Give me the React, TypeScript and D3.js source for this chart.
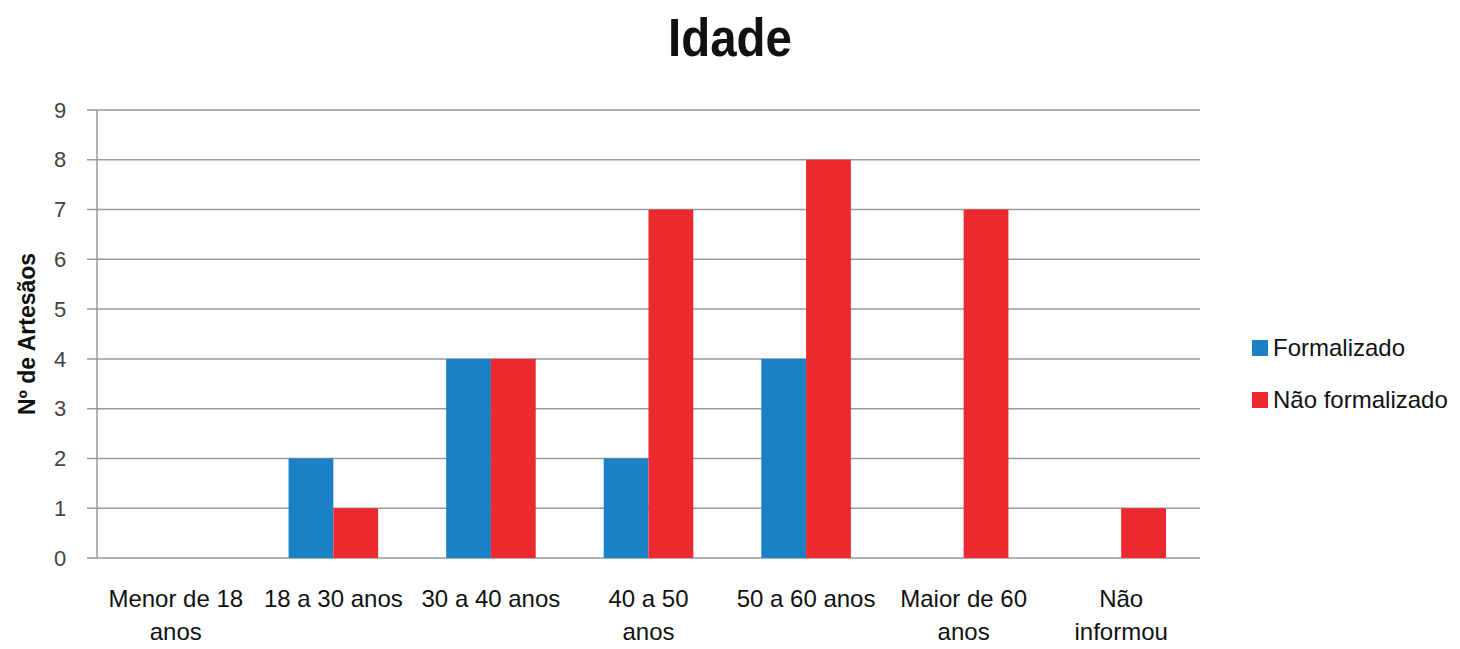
import * as d3 from "d3";

// chart data
const categories = [
  "Menor de 18 anos",
  "18 a 30 anos",
  "30 a 40 anos",
  "40 a 50 anos",
  "50 a 60 anos",
  "Maior de 60 anos",
  "Não informou",
];
// how each category label is broken on two lines
const labelLines = [
  ["Menor de 18", "anos"],
  ["18 a 30  anos"],
  ["30 a 40  anos"],
  ["40 a  50", "anos"],
  ["50 a 60  anos"],
  ["Maior de  60", "anos"],
  ["Não", "informou"],
];
const seriesNames = ["Formalizado", "Não formalizado"];
const formalizado = [0, 2, 4, 2, 4, 0, 0];
const naoFormalizado = [0, 1, 4, 7, 8, 7, 1];
const yTicks = [0, 1, 2, 3, 4, 5, 6, 7, 8, 9];

const colors = ["#1b80c6", "#ed2930"];
const font = "'Liberation Sans', Arial, sans-serif";

export default function App() {
  const width = 1460;
  const height = 649;
  const margin = { top: 110, right: 260, bottom: 91, left: 97 };
  const w = width - margin.left - margin.right;
  const h = height - margin.top - margin.bottom;

  const x = d3.scaleBand().domain(categories).range([0, w]).paddingInner(0).paddingOuter(0);
  const y = d3.scaleLinear().domain([0, 9]).range([h, 0]);
  const x1 = d3
    .scaleBand()
    .domain(seriesNames)
    .range([34, x.bandwidth() - 34])
    .padding(0);

  const values = [formalizado, naoFormalizado];
  const grid = "#9a9a9a";

  return (
    <svg width={width} height={height} style={{ display: "block", position: "absolute", left: 0, top: 0 }}>
      <rect width={width} height={height} fill="#fff" />
      <text
        x={730}
        y={56}
        textAnchor="middle"
        fontFamily={font}
        fontWeight="bold"
        fontSize={54}
        textLength={124}
        lengthAdjust="spacingAndGlyphs"
        fill="#111"
      >
        Idade
      </text>

      <text
        transform={`translate(35,${margin.top + h / 2}) rotate(-90)`}
        textAnchor="middle"
        fontFamily={font}
        fontWeight="bold"
        fontSize={23}
        fill="#111"
      >
        Nº de Artesãos
      </text>

      <g transform={`translate(${margin.left},${margin.top})`}>
        {yTicks.map((t) => (
          <g key={t}>
            <line x1={-10} x2={w} y1={y(t)} y2={y(t)} stroke={grid} strokeWidth={1.5} />
            <text
              x={-37}
              y={y(t)}
              dy="0.35em"
              textAnchor="middle"
              fontFamily={font}
              fontSize={22}
              fill="#444"
            >
              {t}
            </text>
          </g>
        ))}
        <line x1={0} x2={0} y1={0} y2={h} stroke={grid} strokeWidth={1.5} />

        {values.map((vals, si) =>
          categories.map((c, i) =>
            vals[i] > 0 ? (
              <rect
                key={`${si}-${i}`}
                x={(x(c) ?? 0) + (x1(seriesNames[si]) ?? 0)}
                y={y(vals[i])}
                width={x1.bandwidth()}
                height={h - y(vals[i])}
                fill={colors[si]}
              />
            ) : null
          )
        )}

        {categories.map((c, i) => (
          <text
            key={c}
            x={(x(c) ?? 0) + x.bandwidth() / 2}
            y={h + 49}
            textAnchor="middle"
            fontFamily={font}
            fontSize={24}
            fill="#111"
          >
            {labelLines[i].map((l, j) => (
              <tspan key={j} x={(x(c) ?? 0) + x.bandwidth() / 2} dy={j === 0 ? 0 : 33}>
                {l}
              </tspan>
            ))}
          </text>
        ))}
      </g>

      <g transform="translate(1252,336)">
        {seriesNames.map((s, i) => (
          <g key={s} transform={`translate(0,${i * 52})`}>
            <rect x={0} y={4} width={16} height={16} fill={colors[i]} />
            <text x={21} y={20} fontFamily={font} fontSize={24} fill="#111">
              {s}
            </text>
          </g>
        ))}
      </g>
    </svg>
  );
}
